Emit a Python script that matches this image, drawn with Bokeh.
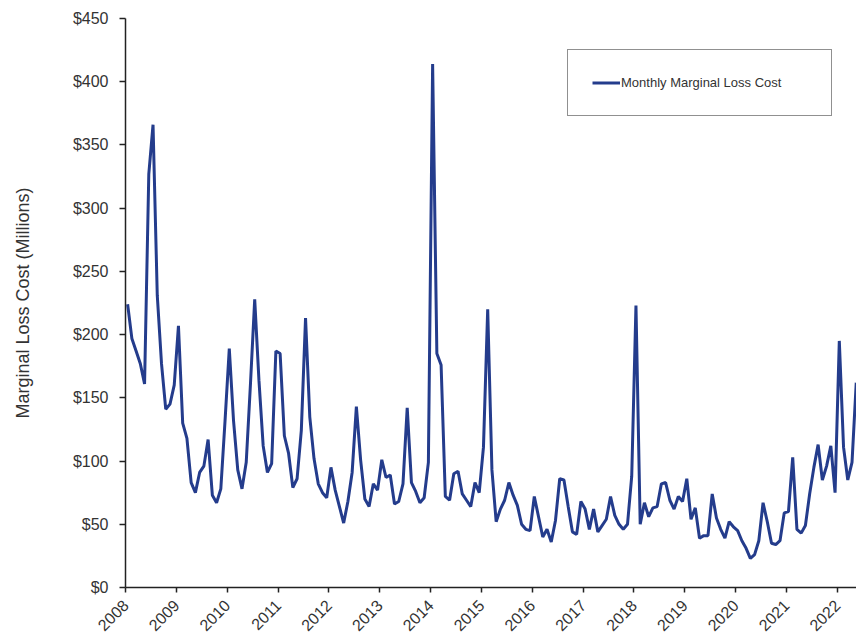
import math
from bokeh.plotting import figure
from bokeh.models import FixedTicker, NumeralTickFormatter, Range1d, Legend, LegendItem, ColumnDataSource
from bokeh.embed import file_html
from bokeh.resources import INLINE

start_year = 2008
# Monthly marginal loss cost ($ millions), Jan 2008 .. May 2022
values_2008 = [224, 197, 187, 177, 161, 327, 366, 231, 177, 141, 145, 160]
values_2009 = [207, 130, 118, 83, 75, 91, 96, 117, 73, 67, 78, 132]
values_2010 = [189, 132, 93, 78, 99, 161, 228, 164, 112, 91, 98, 187]
values_2011 = [185, 120, 106, 79, 86, 124, 213, 135, 102, 82, 75, 71]
values_2012 = [95, 77, 64, 51, 68, 91, 143, 101, 70, 64, 82, 77]
values_2013 = [101, 87, 89, 66, 68, 82, 142, 83, 76, 67, 71, 99]
values_2014 = [414, 185, 176, 72, 69, 90, 92, 74, 69, 64, 83, 75]
values_2015 = [111, 220, 93, 52, 62, 69, 83, 73, 65, 50, 46, 45]
values_2016 = [72, 56, 40, 46, 36, 53, 86, 85, 64, 44, 42, 68]
values_2017 = [62, 46, 62, 44, 49, 54, 72, 57, 50, 46, 50, 88]
values_2018 = [223, 50, 67, 56, 63, 64, 82, 83, 69, 62, 72, 68]
values_2019 = [86, 54, 63, 39, 41, 41, 74, 55, 46, 39, 52, 48]
values_2020 = [45, 37, 31, 23, 26, 37, 67, 52, 35, 34, 37, 59]
values_2021 = [60, 103, 46, 43, 49, 74, 95, 113, 85, 96, 112, 75]
values_2022 = [195, 111, 85, 99, 162]

year_ticks = list(range(2008, 2023))
y_ticks = [0, 50, 100, 150, 200, 250, 300, 350, 400, 450]
series_name = "Monthly Marginal Loss Cost"
y_title = "Marginal Loss Cost (Millions)"

values = (values_2008 + values_2009 + values_2010 + values_2011 + values_2012 +
          values_2013 + values_2014 + values_2015 + values_2016 + values_2017 +
          values_2018 + values_2019 + values_2020 + values_2021 + values_2022)
x = [start_year + (i + 0.5) / 12 for i in range(len(values))]
src = ColumnDataSource(dict(x=x, y=values))

TEXT = "#333333"
AXIS = "#222222"
FONT = "Liberation Sans"

p = figure(width=856, height=639, output_backend="svg", toolbar_location=None,
           x_range=Range1d(2008, 2022.38), y_range=Range1d(0, 450),
           min_border_left=125, min_border_right=0, min_border_top=18,
           min_border_bottom=52)
p.outline_line_color = None
p.grid.visible = False
p.background_fill_color = "white"
p.border_fill_color = "white"

r = p.line("x", "y", source=src, line_color="#243c8c", line_width=3)

xa = p.xaxis[0]
xa.ticker = FixedTicker(ticks=year_ticks)
xa.major_label_overrides = {t: str(t) for t in year_ticks}
xa.major_label_orientation = math.pi / 4
xa.major_label_text_font = FONT
xa.major_label_text_font_size = "16px"
xa.major_label_text_color = TEXT
xa.major_label_standoff = 10
xa.major_tick_out = 5
xa.major_tick_in = 0
xa.minor_tick_out = 0
xa.minor_tick_in = 0
xa.axis_line_color = AXIS
xa.axis_line_width = 1.5
xa.major_tick_line_color = AXIS
xa.major_tick_line_width = 1.5

ya = p.yaxis[0]
ya.ticker = FixedTicker(ticks=y_ticks)
ya.formatter = NumeralTickFormatter(format="$0")
ya.major_label_text_font = FONT
ya.major_label_text_font_size = "16px"
ya.major_label_text_color = TEXT
ya.major_label_standoff = 11
ya.major_tick_out = 6
ya.major_tick_in = 0
ya.minor_tick_out = 0
ya.minor_tick_in = 0
ya.axis_line_color = AXIS
ya.axis_line_width = 1.5
ya.major_tick_line_color = AXIS
ya.major_tick_line_width = 1.5
ya.axis_label = y_title
ya.axis_label_text_font = FONT
ya.axis_label_text_font_size = "18px"
ya.axis_label_text_font_style = "normal"
ya.axis_label_text_color = TEXT
ya.axis_label_standoff = 37

legend = Legend(items=[LegendItem(label=series_name, renderers=[r])],
                location=(442, 471), padding=24, spacing=0, margin=0,
                glyph_width=28, glyph_height=17, label_height=17,
                label_width=186, label_standoff=1,
                label_text_font=FONT, label_text_font_size="13px",
                label_text_color=TEXT,
                border_line_color=AXIS, border_line_width=1,
                background_fill_color="white", background_fill_alpha=1)
p.add_layout(legend)

open("out.html", "w").write(file_html(p, INLINE))
